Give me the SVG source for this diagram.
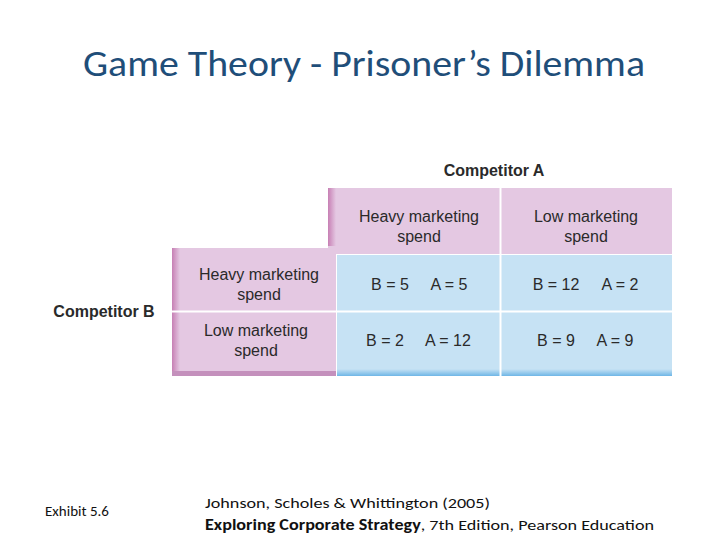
<svg xmlns="http://www.w3.org/2000/svg" width="720" height="540" viewBox="0 0 720 540">
<defs>
<linearGradient id="pinkL" x1="0" x2="1" y1="0" y2="0"><stop offset="0" stop-color="#c77fb4"/><stop offset="1" stop-color="#e4c8e2"/></linearGradient>
<linearGradient id="blueB" x1="0" x2="0" y1="0" y2="1"><stop offset="0" stop-color="#c6e2f4"/><stop offset="1" stop-color="#6fb6e6"/></linearGradient>
</defs>
<style>
.t{font-family:"Liberation Sans",Arial,sans-serif;font-size:16px;fill:#2a2a2a;text-anchor:middle}
.b{font-family:"Liberation Sans",Arial,sans-serif;font-size:16px;font-weight:bold;fill:#2a2a2a;text-anchor:middle}
.pink{fill:#e4c8e2}
.blue{fill:#c6e2f4}
.c{font-family:Calibri,Carlito,"Open Sans",sans-serif;font-size:15px;fill:#111}
</style>
<text x="83" y="76" textLength="562" lengthAdjust="spacingAndGlyphs" font-family="Carlito,Calibri,'Open Sans',sans-serif" font-size="36" fill="#1f4e79">Game Theory - Prisoner’s Dilemma</text>
<text class="b" x="494" y="176">Competitor A</text>
<text class="b" x="104" y="317">Competitor B</text>
<g id="header-a">
<rect x="328" y="188" width="344" height="66" class="pink"/>
<rect x="328" y="188" width="8" height="58" fill="url(#pinkL)"/>
<line x1="500.5" y1="188" x2="500.5" y2="254" stroke="#fff" stroke-width="2"/>
<text class="t" x="419" y="222">Heavy marketing</text><text class="t" x="419" y="242">spend</text>
<text class="t" x="586" y="222">Low marketing</text><text class="t" x="586" y="242">spend</text>
</g>
<g id="header-b">
<rect x="172" y="248" width="164" height="128" class="pink"/>
<rect x="172" y="248" width="8" height="128" fill="url(#pinkL)"/>
<rect x="172" y="371" width="164" height="5" fill="#c490bc"/>
<line x1="172" y1="311.5" x2="336" y2="311.5" stroke="#fff" stroke-width="2"/>
<text class="t" x="259" y="280">Heavy marketing</text><text class="t" x="259" y="300">spend</text>
<text class="t" x="256" y="336">Low marketing</text><text class="t" x="256" y="356">spend</text>
</g>
<g id="cells">
<rect x="337" y="255" width="335" height="121" class="blue"/>
<rect x="337" y="369" width="335" height="7" fill="url(#blueB)"/>
<line x1="500.5" y1="254" x2="500.5" y2="376" stroke="#fff" stroke-width="2"/>
<line x1="336" y1="311.5" x2="672" y2="311.5" stroke="#fff" stroke-width="2"/>
<text class="t" x="390" y="290">B = 5</text><text class="t" x="449" y="290">A = 5</text>
<text class="t" x="556" y="290">B = 12</text><text class="t" x="620" y="290">A = 2</text>
<text class="t" x="385" y="346">B = 2</text><text class="t" x="448" y="346">A = 12</text>
<text class="t" x="556" y="346">B = 9</text><text class="t" x="615" y="346">A = 9</text>
</g>
<text class="c" x="45" y="516">Exhibit 5.6</text>
<text class="c" x="205" y="508" textLength="285" lengthAdjust="spacingAndGlyphs">Johnson, Scholes &amp; Whittington (2005)</text>
<text class="c" x="205" y="530" textLength="449" lengthAdjust="spacingAndGlyphs"><tspan font-weight="bold">Exploring Corporate Strategy</tspan>, 7th Edition, Pearson Education</text>
</svg>
